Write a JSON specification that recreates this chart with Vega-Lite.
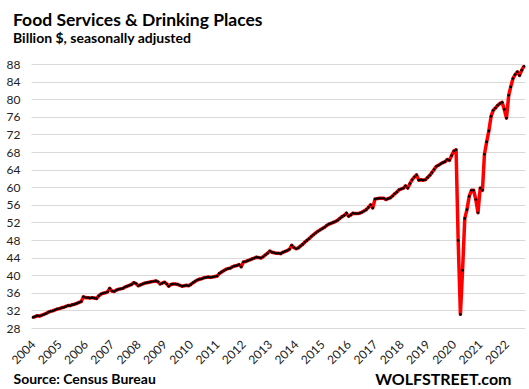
{
 "$schema": "https://vega.github.io/schema/vega-lite/v6.json",
 "width": 494, "height": 264,
 "autosize": {"type": "none"},
 "padding": {"left": 31, "top": 64, "right": 4, "bottom": 61},
 "background": "white",
 "config": {"view": {"stroke": null}, "font": "Lato"},
 "title": {"text": "Food Services & Drinking Places", "subtitle": "Billion $, seasonally adjusted", "anchor": "start", "frame": "group", "dx": -18, "fontSize": 17.5, "fontWeight": "bold", "font": "Lato", "color": "#000", "subtitleFontSize": 14, "subtitleFontWeight": "bold", "subtitleColor": "#000", "subtitleFont": "Lato", "offset": 12, "subtitlePadding": 3},
 "data": {"values": [
{"month":"2004-01-01","value":30.4},{"month":"2004-02-01","value":30.6},{"month":"2004-03-01","value":30.8},{"month":"2004-04-01","value":30.7},{"month":"2004-05-01","value":30.9},{"month":"2004-06-01","value":31.1},{"month":"2004-07-01","value":31.3},{"month":"2004-08-01","value":31.6},{"month":"2004-09-01","value":31.8},{"month":"2004-10-01","value":31.9},{"month":"2004-11-01","value":32.1},{"month":"2004-12-01","value":32.3},
{"month":"2005-01-01","value":32.4},{"month":"2005-02-01","value":32.6},{"month":"2005-03-01","value":32.7},{"month":"2005-04-01","value":32.9},{"month":"2005-05-01","value":33.1},{"month":"2005-06-01","value":33.1},{"month":"2005-07-01","value":33.3},{"month":"2005-08-01","value":33.4},{"month":"2005-09-01","value":33.6},{"month":"2005-10-01","value":33.8},{"month":"2005-11-01","value":34.0},{"month":"2005-12-01","value":35.1},
{"month":"2006-01-01","value":34.9},{"month":"2006-02-01","value":34.9},{"month":"2006-03-01","value":34.8},{"month":"2006-04-01","value":34.9},{"month":"2006-05-01","value":34.8},{"month":"2006-06-01","value":34.7},{"month":"2006-07-01","value":35.3},{"month":"2006-08-01","value":35.7},{"month":"2006-09-01","value":35.9},{"month":"2006-10-01","value":36.0},{"month":"2006-11-01","value":36.2},{"month":"2006-12-01","value":37.0},
{"month":"2007-01-01","value":36.4},{"month":"2007-02-01","value":36.3},{"month":"2007-03-01","value":36.6},{"month":"2007-04-01","value":36.8},{"month":"2007-05-01","value":36.9},{"month":"2007-06-01","value":37.0},{"month":"2007-07-01","value":37.3},{"month":"2007-08-01","value":37.5},{"month":"2007-09-01","value":37.7},{"month":"2007-10-01","value":37.9},{"month":"2007-11-01","value":38.3},{"month":"2007-12-01","value":38.1},
{"month":"2008-01-01","value":37.6},{"month":"2008-02-01","value":37.8},{"month":"2008-03-01","value":38.0},{"month":"2008-04-01","value":38.2},{"month":"2008-05-01","value":38.3},{"month":"2008-06-01","value":38.4},{"month":"2008-07-01","value":38.5},{"month":"2008-08-01","value":38.6},{"month":"2008-09-01","value":38.7},{"month":"2008-10-01","value":38.5},{"month":"2008-11-01","value":38.0},{"month":"2008-12-01","value":38.2},
{"month":"2009-01-01","value":38.4},{"month":"2009-02-01","value":38.0},{"month":"2009-03-01","value":37.5},{"month":"2009-04-01","value":37.9},{"month":"2009-05-01","value":38.0},{"month":"2009-06-01","value":38.0},{"month":"2009-07-01","value":37.9},{"month":"2009-08-01","value":37.7},{"month":"2009-09-01","value":37.5},{"month":"2009-10-01","value":37.6},{"month":"2009-11-01","value":37.7},{"month":"2009-12-01","value":37.6},
{"month":"2010-01-01","value":37.9},{"month":"2010-02-01","value":38.3},{"month":"2010-03-01","value":38.6},{"month":"2010-04-01","value":38.9},{"month":"2010-05-01","value":39.1},{"month":"2010-06-01","value":39.2},{"month":"2010-07-01","value":39.4},{"month":"2010-08-01","value":39.5},{"month":"2010-09-01","value":39.6},{"month":"2010-10-01","value":39.5},{"month":"2010-11-01","value":39.6},{"month":"2010-12-01","value":39.7},
{"month":"2011-01-01","value":39.8},{"month":"2011-02-01","value":40.4},{"month":"2011-03-01","value":40.7},{"month":"2011-04-01","value":41.0},{"month":"2011-05-01","value":41.3},{"month":"2011-06-01","value":41.5},{"month":"2011-07-01","value":41.6},{"month":"2011-08-01","value":41.9},{"month":"2011-09-01","value":42.1},{"month":"2011-10-01","value":42.2},{"month":"2011-11-01","value":42.4},{"month":"2011-12-01","value":41.9},
{"month":"2012-01-01","value":43.0},{"month":"2012-02-01","value":43.1},{"month":"2012-03-01","value":43.3},{"month":"2012-04-01","value":43.5},{"month":"2012-05-01","value":43.7},{"month":"2012-06-01","value":43.9},{"month":"2012-07-01","value":44.1},{"month":"2012-08-01","value":44.0},{"month":"2012-09-01","value":43.9},{"month":"2012-10-01","value":44.2},{"month":"2012-11-01","value":44.6},{"month":"2012-12-01","value":45.0},
{"month":"2013-01-01","value":45.5},{"month":"2013-02-01","value":45.2},{"month":"2013-03-01","value":45.1},{"month":"2013-04-01","value":45.0},{"month":"2013-05-01","value":45.0},{"month":"2013-06-01","value":44.9},{"month":"2013-07-01","value":45.2},{"month":"2013-08-01","value":45.4},{"month":"2013-09-01","value":45.6},{"month":"2013-10-01","value":45.9},{"month":"2013-11-01","value":46.8},{"month":"2013-12-01","value":46.3},
{"month":"2014-01-01","value":46.0},{"month":"2014-02-01","value":46.2},{"month":"2014-03-01","value":46.6},{"month":"2014-04-01","value":47.0},{"month":"2014-05-01","value":47.5},{"month":"2014-06-01","value":47.9},{"month":"2014-07-01","value":48.3},{"month":"2014-08-01","value":48.8},{"month":"2014-09-01","value":49.2},{"month":"2014-10-01","value":49.6},{"month":"2014-11-01","value":50.0},{"month":"2014-12-01","value":50.3},
{"month":"2015-01-01","value":50.6},{"month":"2015-02-01","value":50.9},{"month":"2015-03-01","value":51.3},{"month":"2015-04-01","value":51.6},{"month":"2015-05-01","value":51.8},{"month":"2015-06-01","value":52.0},{"month":"2015-07-01","value":52.2},{"month":"2015-08-01","value":52.5},{"month":"2015-09-01","value":52.9},{"month":"2015-10-01","value":53.3},{"month":"2015-11-01","value":53.6},{"month":"2015-12-01","value":54.1},
{"month":"2016-01-01","value":53.4},{"month":"2016-02-01","value":53.7},{"month":"2016-03-01","value":54.1},{"month":"2016-04-01","value":54.0},{"month":"2016-05-01","value":54.0},{"month":"2016-06-01","value":54.1},{"month":"2016-07-01","value":54.3},{"month":"2016-08-01","value":54.6},{"month":"2016-09-01","value":54.9},{"month":"2016-10-01","value":55.4},{"month":"2016-11-01","value":56.0},{"month":"2016-12-01","value":55.3},
{"month":"2017-01-01","value":57.3},{"month":"2017-02-01","value":57.4},{"month":"2017-03-01","value":57.5},{"month":"2017-04-01","value":57.5},{"month":"2017-05-01","value":57.5},{"month":"2017-06-01","value":57.2},{"month":"2017-07-01","value":57.4},{"month":"2017-08-01","value":57.6},{"month":"2017-09-01","value":58.0},{"month":"2017-10-01","value":58.5},{"month":"2017-11-01","value":58.9},{"month":"2017-12-01","value":59.4},
{"month":"2018-01-01","value":59.6},{"month":"2018-02-01","value":59.8},{"month":"2018-03-01","value":60.3},{"month":"2018-04-01","value":59.8},{"month":"2018-05-01","value":60.8},{"month":"2018-06-01","value":61.7},{"month":"2018-07-01","value":62.3},{"month":"2018-08-01","value":62.8},{"month":"2018-09-01","value":61.6},{"month":"2018-10-01","value":61.7},{"month":"2018-11-01","value":61.6},{"month":"2018-12-01","value":61.7},
{"month":"2019-01-01","value":62.2},{"month":"2019-02-01","value":62.7},{"month":"2019-03-01","value":63.3},{"month":"2019-04-01","value":64.0},{"month":"2019-05-01","value":64.7},{"month":"2019-06-01","value":65.0},{"month":"2019-07-01","value":65.3},{"month":"2019-08-01","value":65.6},{"month":"2019-09-01","value":65.8},{"month":"2019-10-01","value":66.3},{"month":"2019-11-01","value":66.1},{"month":"2019-12-01","value":67.2},
{"month":"2020-01-01","value":68.2},{"month":"2020-02-01","value":68.5},{"month":"2020-03-01","value":47.9},{"month":"2020-04-01","value":31.1},{"month":"2020-05-01","value":41.1},{"month":"2020-06-01","value":52.9},{"month":"2020-07-01","value":54.9},{"month":"2020-08-01","value":57.9},{"month":"2020-09-01","value":59.3},{"month":"2020-10-01","value":59.3},{"month":"2020-11-01","value":57.2},{"month":"2020-12-01","value":54.2},
{"month":"2021-01-01","value":59.8},{"month":"2021-02-01","value":59.3},{"month":"2021-03-01","value":67.5},{"month":"2021-04-01","value":70.3},{"month":"2021-05-01","value":72.8},{"month":"2021-06-01","value":76.1},{"month":"2021-07-01","value":77.5},{"month":"2021-08-01","value":78.0},{"month":"2021-09-01","value":78.6},{"month":"2021-10-01","value":79.0},{"month":"2021-11-01","value":79.3},{"month":"2021-12-01","value":77.7},
{"month":"2022-01-01","value":75.7},{"month":"2022-02-01","value":80.9},{"month":"2022-03-01","value":82.8},{"month":"2022-04-01","value":84.7},{"month":"2022-05-01","value":85.6},{"month":"2022-06-01","value":86.2},{"month":"2022-07-01","value":85.4},{"month":"2022-08-01","value":86.6},{"month":"2022-09-01","value":87.5}
 ]},
 "encoding": {
  "x": {"field": "month", "type": "temporal",
   "scale": {"type": "utc", "domain": [{"year": 2003, "month": 12, "date": 4, "utc": true}, {"year": 2022, "month": 9, "date": 15, "utc": true}]},
   "axis": {"values": [{"year":2004,"utc":true},{"year":2005,"utc":true},{"year":2006,"utc":true},{"year":2007,"utc":true},{"year":2008,"utc":true},{"year":2009,"utc":true},{"year":2010,"utc":true},{"year":2011,"utc":true},{"year":2012,"utc":true},{"year":2013,"utc":true},{"year":2014,"utc":true},{"year":2015,"utc":true},{"year":2016,"utc":true},{"year":2017,"utc":true},{"year":2018,"utc":true},{"year":2019,"utc":true},{"year":2020,"utc":true},{"year":2021,"utc":true},{"year":2022,"utc":true}],
    "format": "%Y", "labelAngle": -45, "labelAlign": "right", "labelBaseline": "middle", "grid": false, "ticks": false, "domain": false, "labelPadding": 14, "labelFontSize": 12, "labelColor": "#222", "labelFont": "Lato", "labelOverlap": false, "labelFlush": false, "labelBound": false,
    "title": "Source: Census Bureau", "titleAnchor": "start", "titleAlign": "left", "titleX": -18, "titleY": 55, "titleBaseline": "alphabetic", "titleFontSize": 14, "titleFontWeight": "bold", "titleColor": "#000", "titleFont": "Lato"}}
 },
 "layer": [
  {
   "mark": {"type": "line", "color": "#ff0000", "strokeWidth": 3.5, "strokeJoin": "round"},
   "encoding": {
    "y": {"field": "value", "type": "quantitative", "scale": {"domain": [28, 88], "nice": false, "zero": false},
      "axis": {"values": [28,32,36,40,44,48,52,56,60,64,68,72,76,80,84,88], "grid": true, "gridColor": "#d9d9d9", "gridWidth": 1, "ticks": false, "domain": false, "labelFontSize": 12, "labelColor": "#222", "labelFont": "Lato", "labelPadding": 11, "title": null}}
   }
  },
  {
   "mark": {"type": "point", "filled": true, "color": "#000", "size": 7, "opacity": 1},
   "encoding": {
    "y": {"field": "value", "type": "quantitative",
      "axis": {"orient": "right", "labels": false, "ticks": false, "domain": false, "grid": false, "title": "WOLFSTREET.com", "titleAngle": 0, "titleAlign": "right", "titleBaseline": "alphabetic", "titleX": -14, "titleY": 320, "titleFontSize": 16, "titleFontWeight": "bold", "titleColor": "#000", "titleFont": "Lato"}}
   }
  }
 ],
 "resolve": {"axis": {"y": "independent"}}
}
